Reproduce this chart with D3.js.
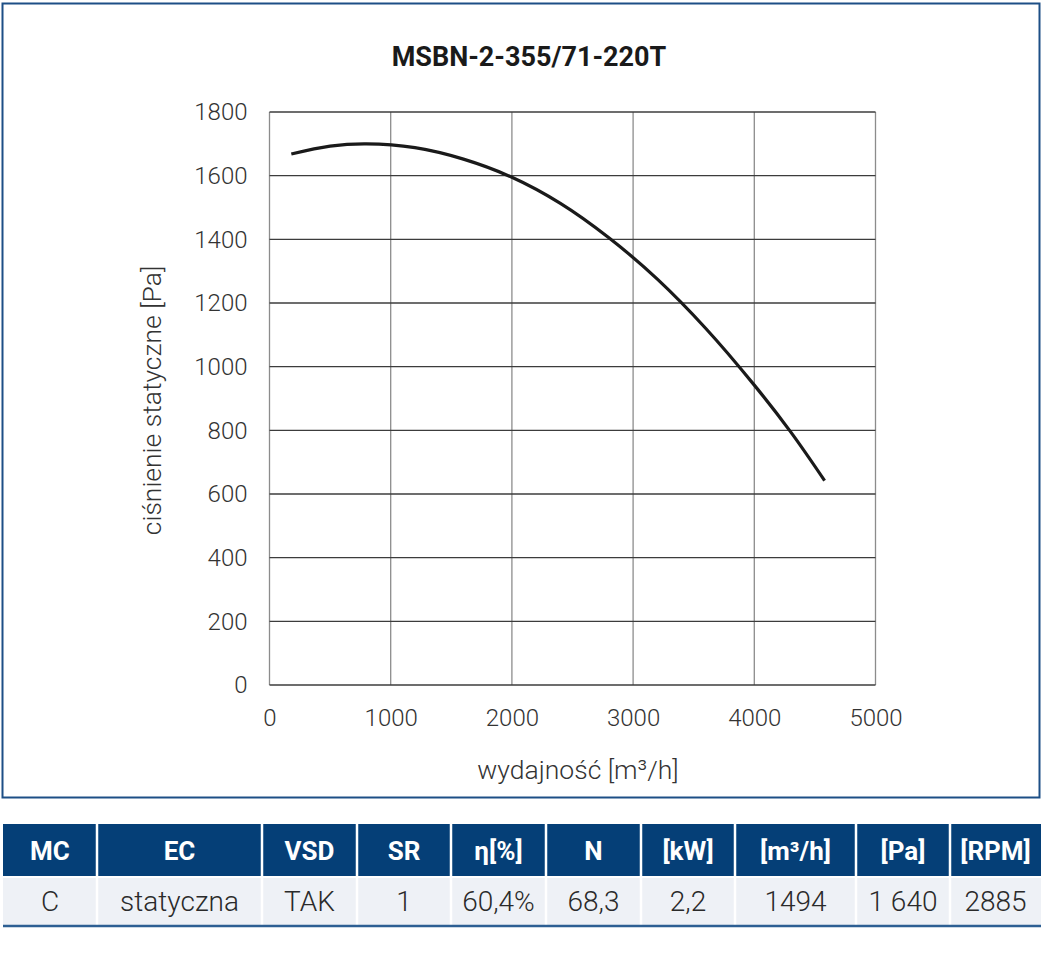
<!DOCTYPE html>
<html>
<head>
<meta charset="utf-8">
<script src="https://cdn.jsdelivr.net/npm/d3@7"></script>
<style>
  body { margin: 0; background: #fff; }
  text { font-family: Roboto, "DejaVu Sans", sans-serif; }
</style>
</head>
<body>
<div id="chart"></div>
<script>
const TITLE = "MSBN-2-355/71-220T";
const X_LABEL = "wydajność [m³/h]";
const Y_LABEL = "ciśnienie statyczne [Pa]";

// fan curve
const flow = [180, 500, 800, 1200, 1600, 2000, 2400, 2800, 3200, 3600, 4000, 4300, 4580];
const pressure = [1668, 1693, 1700, 1688, 1652, 1595, 1513, 1405, 1275, 1120, 942, 795, 642];

const xTicks = [0, 1000, 2000, 3000, 4000, 5000];
const yTicks = [0, 200, 400, 600, 800, 1000, 1200, 1400, 1600, 1800];

// parameter table
const tableHeaders = ["MC", "EC", "VSD", "SR", "η[%]", "N", "[kW]", "[m³/h]", "[Pa]", "[RPM]"];
const tableValues = ["C", "statyczna", "TAK", "1", "60,4%", "68,3", "2,2", "1494", "1 640", "2885"];

const WIDTH = 1043, HEIGHT = 957;
const BLUE = "#053f77";

const svg = d3.select("#chart")
    .append("svg")
    .attr("width", WIDTH)
    .attr("height", HEIGHT);

// ---------------- frame ----------------
svg.append("rect")
    .attr("x", 2.5).attr("y", 3.5)
    .attr("width", 1037).attr("height", 794)
    .attr("fill", "none")
    .attr("stroke", "#1d4f86")
    .attr("stroke-width", 2);

svg.append("text")
    .attr("x", 529).attr("y", 66)
    .attr("text-anchor", "middle")
    .attr("font-size", 27)
    .attr("font-weight", 700)
    .attr("fill", "#1a1a1a")
    .text(TITLE);

// ---------------- scales ----------------
const plot = {left: 269.5, right: 875.5, top: 112, bottom: 685};
const x = d3.scaleLinear().domain([0, 5000]).range([plot.left, plot.right]);
const y = d3.scaleLinear().domain([0, 1800]).range([plot.bottom, plot.top]);

const g = svg.append("g");

// vertical grid
g.append("g")
    .selectAll("line")
    .data(xTicks)
    .enter()
    .append("line")
    .attr("x1", d => x(d)).attr("x2", d => x(d))
    .attr("y1", plot.top).attr("y2", plot.bottom)
    .attr("stroke", "#8c8c8c")
    .attr("stroke-width", 1.3);

// horizontal grid
g.append("g")
    .selectAll("line")
    .data(yTicks)
    .enter()
    .append("line")
    .attr("x1", plot.left).attr("x2", plot.right)
    .attr("y1", d => y(d)).attr("y2", d => y(d))
    .attr("stroke", "#3c3c3c")
    .attr("stroke-width", 1.3);

// axes (labels only, lines come from the grid)
const xAxis = g.append("g")
    .attr("transform", `translate(0,${plot.bottom})`)
    .call(d3.axisBottom(x).tickValues(xTicks).tickSize(0).tickPadding(20).tickFormat(d3.format("d")));
const yAxis = g.append("g")
    .attr("transform", `translate(${plot.left},0)`)
    .call(d3.axisLeft(y).tickValues(yTicks).tickSize(0).tickPadding(22).tickFormat(d3.format("d")));
[xAxis, yAxis].forEach(a => {
    a.select(".domain").remove();
    a.selectAll("text")
        .attr("font-family", "Roboto, sans-serif")
        .attr("font-size", 24)
        .attr("font-weight", 300)
        .attr("fill", "#333");
});
xAxis.selectAll("text").attr("dy", "0.71em").attr("y", 24);

// axis titles
svg.append("text")
    .attr("x", 578).attr("y", 779)
    .attr("text-anchor", "middle")
    .attr("font-size", 26.5)
    .attr("font-weight", 300)
    .attr("fill", "#333")
    .text(X_LABEL);

svg.append("text")
    .attr("transform", `translate(161,${(plot.top + plot.bottom) / 2 + 2}) rotate(-90)`)
    .attr("text-anchor", "middle")
    .attr("font-size", 26.5)
    .attr("font-weight", 300)
    .attr("fill", "#333")
    .text(Y_LABEL);

// ---------------- curve ----------------
const line = d3.line()
    .x(d => x(d[0]))
    .y(d => y(d[1]))
    .curve(d3.curveCatmullRom);

g.append("path")
    .datum(d3.zip(flow, pressure))
    .attr("d", line)
    .attr("fill", "none")
    .attr("stroke", "#1a1a1a")
    .attr("stroke-width", 3.2)
    .attr("stroke-linecap", "butt");

// ---------------- table ----------------
const colEdges = [3, 97, 262, 357, 451, 546, 641, 735, 856, 950, 1041];
const headTop = 824, headBottom = 877, rowBottom = 925;

const table = svg.append("g");
const cols = tableHeaders.map((h, i) => ({
    head: h,
    value: tableValues[i],
    x0: colEdges[i],
    x1: colEdges[i + 1]
}));

const cell = table.selectAll("g")
    .data(cols)
    .enter()
    .append("g");

cell.append("rect")
    .attr("x", d => d.x0).attr("y", headTop)
    .attr("width", d => d.x1 - d.x0).attr("height", headBottom - headTop)
    .attr("fill", BLUE);

cell.append("rect")
    .attr("x", d => d.x0).attr("y", headBottom)
    .attr("width", d => d.x1 - d.x0).attr("height", rowBottom - headBottom)
    .attr("fill", "#eef1f6");

cell.append("text")
    .attr("x", d => (d.x0 + d.x1) / 2)
    .attr("y", (headTop + headBottom) / 2 + 9)
    .attr("text-anchor", "middle")
    .attr("font-size", 26)
    .attr("font-weight", 700)
    .attr("fill", "#fff")
    .text(d => d.head);

cell.append("text")
    .attr("x", d => (d.x0 + d.x1) / 2)
    .attr("y", (headBottom + rowBottom) / 2 + 10)
    .attr("text-anchor", "middle")
    .attr("font-size", 28)
    .attr("font-weight", 300)
    .attr("fill", "#2a2a2a")
    .text(d => d.value);

// white separators between columns and rows
table.append("g")
    .selectAll("line")
    .data(colEdges.slice(1, -1))
    .enter()
    .append("line")
    .attr("x1", d => d).attr("x2", d => d)
    .attr("y1", headTop).attr("y2", rowBottom)
    .attr("stroke", "#fff")
    .attr("stroke-width", 2.5);

table.append("line")
    .attr("x1", colEdges[0]).attr("x2", colEdges[colEdges.length - 1])
    .attr("y1", headBottom).attr("y2", headBottom)
    .attr("stroke", "#fff")
    .attr("stroke-width", 2);

table.append("line")
    .attr("x1", colEdges[0]).attr("x2", colEdges[colEdges.length - 1])
    .attr("y1", rowBottom + 1).attr("y2", rowBottom + 1)
    .attr("stroke", "#2d5f93")
    .attr("stroke-width", 2.5);
</script>
</body>
</html>
